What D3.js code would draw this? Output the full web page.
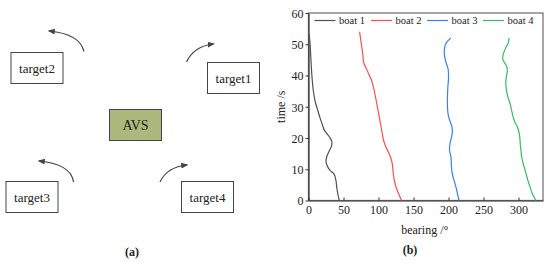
<!DOCTYPE html>
<html>
<head>
<meta charset="utf-8">
<script src="https://cdn.jsdelivr.net/npm/d3@7"></script>
<style>
  html, body { margin: 0; padding: 0; background: #fff; }
  svg text { font-family: "Liberation Serif", "DejaVu Serif", serif; }
</style>
</head>
<body>
<div id="chart"></div>
<script>
// series: [time (s), bearing (deg)]
const boat1 = [[0,44],[2,42],[4,40.5],[6,39.5],[7,38.6],[8,37.5],[8.7,35.7],[9.5,31.5],[10.3,28.6],[11.5,26],[12.5,25],[14,26],[16,30],[17.5,33],[18.8,33.4],[20,31],[21.5,26],[22.6,22.4],[24.5,19.5],[26.3,16.7],[29,13],[31.6,9.6],[34.8,7.1],[40.1,4.8],[45.5,3.4],[50,2.3],[53,1]];
const boat2 = [[0,133],[2,129],[4,125.5],[6,123],[8,121.5],[10,120.5],[12,119.5],[14,117],[16,113],[18,109],[20,106.5],[22.6,104.5],[25,102.5],[28,100],[31,97.5],[34,95],[36.5,92.5],[38.5,90],[40,87],[42,83],[44,79],[47,77.5],[50,75.5],[54,73]];
const boat3 = [[0,215],[2,213],[4,211],[6,208.5],[8,206],[10,204.5],[12,204],[14,203.5],[16,201.5],[18,202],[20,204],[22,205.5],[23.5,205],[25.5,202],[27.5,199.5],[30,198.5],[33,198.5],[36,199],[39,200],[42,199.5],[44.5,196],[47,194],[49,194.5],[50.5,197],[51.5,201],[52,203]];
const boat4 = [[0,325],[2,320],[4,317],[6,314],[8,311.5],[10,309],[12,306.5],[14,304.5],[16,303.5],[18,302.5],[20,302],[22,300.5],[23.5,298.5],[25,295],[27,292],[29,290],[31,288],[33,285],[35,283],[37,282],[38.6,282],[40,283],[41.5,284],[43,283],[44.5,279],[45.5,277.3],[47,278.5],[49,282],[50.5,285.5],[52,286.5]];
const seriesNames = ['boat 1', 'boat 2', 'boat 3', 'boat 4'];
const xTicks = [0, 50, 100, 150, 200, 250, 300];
const yTicks = [0, 10, 20, 30, 40, 50, 60];

// diagram (a) labels
const boxLabels = ['target1', 'target2', 'target3', 'target4', 'AVS'];

const W = 550, H = 263;
const FONT = '"Liberation Serif", "DejaVu Serif", serif';
const colors = ['#505050', '#ff4d4d', '#3b7ff0', '#33bb66'];

const svg = d3.select('#chart').append('svg')
  .attr('width', W).attr('height', H);

// ---------- panel (a): schematic ----------
const boxLayout = [
  { x: 207.5, y: 62.5 },   // target1
  { x: 11, y: 52.5 },      // target2
  { x: 6, y: 181.5 },      // target3
  { x: 181.5, y: 181.5 },  // target4
  { x: 109.5, y: 109.5 }   // AVS
];
const boxW = 52, boxH = 31;

const defs = svg.append('defs');
defs.append('marker')
  .attr('id', 'head')
  .attr('viewBox', '0 0 10 10')
  .attr('refX', 8).attr('refY', 5)
  .attr('markerWidth', 6).attr('markerHeight', 6)
  .attr('orient', 'auto')
  .append('path')
  .attr('d', 'M0,1 L10,5 L0,9 Z')
  .attr('fill', '#444');

const diag = svg.append('g');
diag.selectAll('rect.box')
  .data(boxLabels)
  .enter().append('rect')
  .attr('class', 'box')
  .attr('x', (d, i) => boxLayout[i].x)
  .attr('y', (d, i) => boxLayout[i].y)
  .attr('width', boxW).attr('height', boxH)
  .attr('fill', d => d === 'AVS' ? '#abb97d' : '#fff')
  .attr('stroke', '#444')
  .attr('stroke-width', 1);

diag.selectAll('text.box')
  .data(boxLabels)
  .enter().append('text')
  .attr('class', 'box')
  .attr('x', (d, i) => boxLayout[i].x + boxW / 2)
  .attr('y', (d, i) => boxLayout[i].y + boxH / 2 + 4.5)
  .attr('text-anchor', 'middle')
  .attr('font-family', FONT)
  .attr('font-size', d => d === 'AVS' ? 14 : 13)
  .attr('fill', '#222')
  .text(d => d);

// curved arrows [start, control, end]
const arrows = [
  [[186.5, 62], [194, 46], [213.5, 44]],
  [[84, 51.5], [80, 34], [49, 31]],
  [[73.5, 182], [71, 164], [39, 161]],
  [[160, 182], [167, 167], [187, 165]]
];
diag.selectAll('path.arrow')
  .data(arrows)
  .enter().append('path')
  .attr('class', 'arrow')
  .attr('d', a => `M${a[0][0]},${a[0][1]} Q${a[1][0]},${a[1][1]} ${a[2][0]},${a[2][1]}`)
  .attr('fill', 'none')
  .attr('stroke', '#444')
  .attr('stroke-width', 1.2)
  .attr('marker-end', 'url(#head)');

svg.append('text')
  .attr('x', 132).attr('y', 256)
  .attr('text-anchor', 'middle')
  .attr('font-family', FONT)
  .attr('font-size', 12).attr('font-weight', 'bold')
  .attr('fill', '#222')
  .text('(a)');

// ---------- panel (b): chart ----------
const plot = { left: 308.5, right: 543, top: 13, bottom: 200.5 };
const x = d3.scaleLinear().domain([0, 335]).range([plot.left, plot.right]);
const y = d3.scaleLinear().domain([0, 60]).range([plot.bottom, plot.top]);

const chart = svg.append('g');

// frame
chart.append('rect')
  .attr('x', plot.left).attr('y', plot.top)
  .attr('width', plot.right - plot.left).attr('height', plot.bottom - plot.top)
  .attr('fill', 'none')
  .attr('stroke', '#777')
  .attr('stroke-width', 1.3);

const xAxis = chart.append('g')
  .attr('transform', `translate(0,${plot.bottom})`)
  .call(d3.axisBottom(x).tickValues(xTicks).tickSizeInner(-3).tickSizeOuter(0).tickPadding(5));
const yAxis = chart.append('g')
  .attr('transform', `translate(${plot.left},0)`)
  .call(d3.axisLeft(y).tickValues(yTicks).tickSizeInner(3).tickSizeOuter(0).tickPadding(2));

[xAxis, yAxis].forEach(ax => {
  ax.attr('font-family', FONT);
  ax.select('.domain').attr('stroke', '#333').attr('stroke-width', 1.2);
  ax.selectAll('.tick line').attr('stroke', '#333');
  ax.selectAll('.tick text')
    .attr('font-size', 12)
    .attr('fill', '#222');
});
yAxis.selectAll('.tick text').attr('dy', '0.36em');

const line = d3.line()
  .x(d => x(d[1]))
  .y(d => y(d[0]))
  .curve(d3.curveCatmullRom.alpha(0.5));

chart.selectAll('path.series')
  .data([boat1, boat2, boat3, boat4])
  .enter().append('path')
  .attr('class', 'series')
  .attr('d', line)
  .attr('fill', 'none')
  .attr('stroke', (d, i) => colors[i])
  .attr('stroke-width', 1.2);

// legend
const legX = [314.5, 371, 427, 483];
const leg = chart.selectAll('g.leg')
  .data(seriesNames)
  .enter().append('g')
  .attr('class', 'leg')
  .attr('transform', (d, i) => `translate(${legX[i]},${20.5})`);
leg.append('line')
  .attr('x1', 0).attr('x2', 21)
  .attr('stroke', (d, i) => colors[i])
  .attr('stroke-width', 1.2);
leg.append('text')
  .attr('x', 24.5).attr('y', 3.5)
  .attr('font-family', FONT)
  .attr('font-size', 10.5)
  .attr('fill', '#222')
  .text(d => d);

// axis titles
chart.append('text')
  .attr('x', (plot.left + plot.right) / 2 - 1)
  .attr('y', 234)
  .attr('text-anchor', 'middle')
  .attr('font-family', FONT)
  .attr('font-size', 12)
  .attr('fill', '#222')
  .text('bearing /°');
chart.append('text')
  .attr('transform', `translate(285,${(plot.top + plot.bottom) / 2}) rotate(-90)`)
  .attr('text-anchor', 'middle')
  .attr('font-family', FONT)
  .attr('font-size', 12)
  .attr('fill', '#222')
  .text('time /s');

svg.append('text')
  .attr('x', 410).attr('y', 254)
  .attr('text-anchor', 'middle')
  .attr('font-family', FONT)
  .attr('font-size', 12).attr('font-weight', 'bold')
  .attr('fill', '#222')
  .text('(b)');
</script>
</body>
</html>
